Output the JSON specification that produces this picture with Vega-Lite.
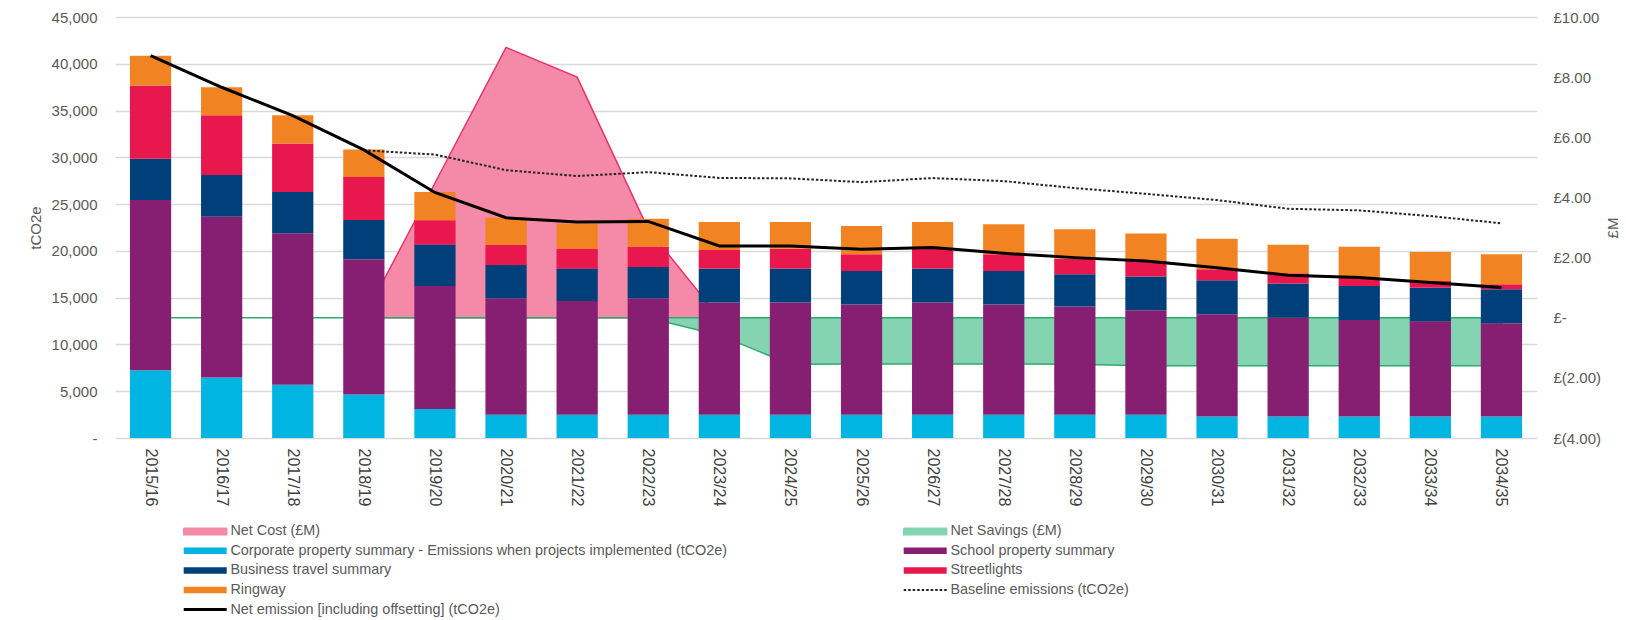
{
  "$schema": "https://vega.github.io/schema/vega-lite/v6.json",
  "width": 1422,
  "height": 421,
  "autosize": {"type": "none"},
  "padding": {"left": 115, "top": 17, "right": 89, "bottom": 182},
  "config": {"view": {"stroke": null}, "font": "Liberation Sans"},
  "datasets": {
    "bars": [
      {"year": "2015/16", "series": "Corporate property summary - Emissions when projects implemented (tCO2e)", "stackorder": 1, "tco2e": 7250},
      {"year": "2015/16", "series": "School property summary", "stackorder": 2, "tco2e": 18180},
      {"year": "2015/16", "series": "Business travel summary", "stackorder": 3, "tco2e": 4410},
      {"year": "2015/16", "series": "Streetlights", "stackorder": 4, "tco2e": 7830},
      {"year": "2015/16", "series": "Ringway", "stackorder": 5, "tco2e": 3200},
      {"year": "2016/17", "series": "Corporate property summary - Emissions when projects implemented (tCO2e)", "stackorder": 1, "tco2e": 6470},
      {"year": "2016/17", "series": "School property summary", "stackorder": 2, "tco2e": 17180},
      {"year": "2016/17", "series": "Business travel summary", "stackorder": 3, "tco2e": 4450},
      {"year": "2016/17", "series": "Streetlights", "stackorder": 4, "tco2e": 6400},
      {"year": "2016/17", "series": "Ringway", "stackorder": 5, "tco2e": 2990},
      {"year": "2017/18", "series": "Corporate property summary - Emissions when projects implemented (tCO2e)", "stackorder": 1, "tco2e": 5690},
      {"year": "2017/18", "series": "School property summary", "stackorder": 2, "tco2e": 16190},
      {"year": "2017/18", "series": "Business travel summary", "stackorder": 3, "tco2e": 4410},
      {"year": "2017/18", "series": "Streetlights", "stackorder": 4, "tco2e": 5190},
      {"year": "2017/18", "series": "Ringway", "stackorder": 5, "tco2e": 3020},
      {"year": "2018/19", "series": "Corporate property summary - Emissions when projects implemented (tCO2e)", "stackorder": 1, "tco2e": 4660},
      {"year": "2018/19", "series": "School property summary", "stackorder": 2, "tco2e": 14440},
      {"year": "2018/19", "series": "Business travel summary", "stackorder": 3, "tco2e": 4200},
      {"year": "2018/19", "series": "Streetlights", "stackorder": 4, "tco2e": 4590},
      {"year": "2018/19", "series": "Ringway", "stackorder": 5, "tco2e": 2950},
      {"year": "2019/20", "series": "Corporate property summary - Emissions when projects implemented (tCO2e)", "stackorder": 1, "tco2e": 3100},
      {"year": "2019/20", "series": "School property summary", "stackorder": 2, "tco2e": 13160},
      {"year": "2019/20", "series": "Business travel summary", "stackorder": 3, "tco2e": 4410},
      {"year": "2019/20", "series": "Streetlights", "stackorder": 4, "tco2e": 2600},
      {"year": "2019/20", "series": "Ringway", "stackorder": 5, "tco2e": 3020},
      {"year": "2020/21", "series": "Corporate property summary - Emissions when projects implemented (tCO2e)", "stackorder": 1, "tco2e": 2490},
      {"year": "2020/21", "series": "School property summary", "stackorder": 2, "tco2e": 12410},
      {"year": "2020/21", "series": "Business travel summary", "stackorder": 3, "tco2e": 3590},
      {"year": "2020/21", "series": "Streetlights", "stackorder": 4, "tco2e": 2135},
      {"year": "2020/21", "series": "Ringway", "stackorder": 5, "tco2e": 2920},
      {"year": "2021/22", "series": "Corporate property summary - Emissions when projects implemented (tCO2e)", "stackorder": 1, "tco2e": 2490},
      {"year": "2021/22", "series": "School property summary", "stackorder": 2, "tco2e": 12165},
      {"year": "2021/22", "series": "Business travel summary", "stackorder": 3, "tco2e": 3450},
      {"year": "2021/22", "series": "Streetlights", "stackorder": 4, "tco2e": 2135},
      {"year": "2021/22", "series": "Ringway", "stackorder": 5, "tco2e": 2700},
      {"year": "2022/23", "series": "Corporate property summary - Emissions when projects implemented (tCO2e)", "stackorder": 1, "tco2e": 2490},
      {"year": "2022/23", "series": "School property summary", "stackorder": 2, "tco2e": 12414},
      {"year": "2022/23", "series": "Business travel summary", "stackorder": 3, "tco2e": 3380},
      {"year": "2022/23", "series": "Streetlights", "stackorder": 4, "tco2e": 2170},
      {"year": "2022/23", "series": "Ringway", "stackorder": 5, "tco2e": 2990},
      {"year": "2023/24", "series": "Corporate property summary - Emissions when projects implemented (tCO2e)", "stackorder": 1, "tco2e": 2490},
      {"year": "2023/24", "series": "School property summary", "stackorder": 2, "tco2e": 11990},
      {"year": "2023/24", "series": "Business travel summary", "stackorder": 3, "tco2e": 3630},
      {"year": "2023/24", "series": "Streetlights", "stackorder": 4, "tco2e": 1990},
      {"year": "2023/24", "series": "Ringway", "stackorder": 5, "tco2e": 2990},
      {"year": "2024/25", "series": "Corporate property summary - Emissions when projects implemented (tCO2e)", "stackorder": 1, "tco2e": 2490},
      {"year": "2024/25", "series": "School property summary", "stackorder": 2, "tco2e": 11990},
      {"year": "2024/25", "series": "Business travel summary", "stackorder": 3, "tco2e": 3630},
      {"year": "2024/25", "series": "Streetlights", "stackorder": 4, "tco2e": 2130},
      {"year": "2024/25", "series": "Ringway", "stackorder": 5, "tco2e": 2850},
      {"year": "2025/26", "series": "Corporate property summary - Emissions when projects implemented (tCO2e)", "stackorder": 1, "tco2e": 2490},
      {"year": "2025/26", "series": "School property summary", "stackorder": 2, "tco2e": 11775},
      {"year": "2025/26", "series": "Business travel summary", "stackorder": 3, "tco2e": 3590},
      {"year": "2025/26", "series": "Streetlights", "stackorder": 4, "tco2e": 1780},
      {"year": "2025/26", "series": "Ringway", "stackorder": 5, "tco2e": 3020},
      {"year": "2026/27", "series": "Corporate property summary - Emissions when projects implemented (tCO2e)", "stackorder": 1, "tco2e": 2490},
      {"year": "2026/27", "series": "School property summary", "stackorder": 2, "tco2e": 11990},
      {"year": "2026/27", "series": "Business travel summary", "stackorder": 3, "tco2e": 3630},
      {"year": "2026/27", "series": "Streetlights", "stackorder": 4, "tco2e": 2240},
      {"year": "2026/27", "series": "Ringway", "stackorder": 5, "tco2e": 2740},
      {"year": "2027/28", "series": "Corporate property summary - Emissions when projects implemented (tCO2e)", "stackorder": 1, "tco2e": 2490},
      {"year": "2027/28", "series": "School property summary", "stackorder": 2, "tco2e": 11775},
      {"year": "2027/28", "series": "Business travel summary", "stackorder": 3, "tco2e": 3590},
      {"year": "2027/28", "series": "Streetlights", "stackorder": 4, "tco2e": 1780},
      {"year": "2027/28", "series": "Ringway", "stackorder": 5, "tco2e": 3200},
      {"year": "2028/29", "series": "Corporate property summary - Emissions when projects implemented (tCO2e)", "stackorder": 1, "tco2e": 2490},
      {"year": "2028/29", "series": "School property summary", "stackorder": 2, "tco2e": 11560},
      {"year": "2028/29", "series": "Business travel summary", "stackorder": 3, "tco2e": 3450},
      {"year": "2028/29", "series": "Streetlights", "stackorder": 4, "tco2e": 1670},
      {"year": "2028/29", "series": "Ringway", "stackorder": 5, "tco2e": 3130},
      {"year": "2029/30", "series": "Corporate property summary - Emissions when projects implemented (tCO2e)", "stackorder": 1, "tco2e": 2490},
      {"year": "2029/30", "series": "School property summary", "stackorder": 2, "tco2e": 11170},
      {"year": "2029/30", "series": "Business travel summary", "stackorder": 3, "tco2e": 3590},
      {"year": "2029/30", "series": "Streetlights", "stackorder": 4, "tco2e": 1670},
      {"year": "2029/30", "series": "Ringway", "stackorder": 5, "tco2e": 2950},
      {"year": "2030/31", "series": "Corporate property summary - Emissions when projects implemented (tCO2e)", "stackorder": 1, "tco2e": 2310},
      {"year": "2030/31", "series": "School property summary", "stackorder": 2, "tco2e": 10920},
      {"year": "2030/31", "series": "Business travel summary", "stackorder": 3, "tco2e": 3630},
      {"year": "2030/31", "series": "Streetlights", "stackorder": 4, "tco2e": 1175},
      {"year": "2030/31", "series": "Ringway", "stackorder": 5, "tco2e": 3270},
      {"year": "2031/32", "series": "Corporate property summary - Emissions when projects implemented (tCO2e)", "stackorder": 1, "tco2e": 2310},
      {"year": "2031/32", "series": "School property summary", "stackorder": 2, "tco2e": 10565},
      {"year": "2031/32", "series": "Business travel summary", "stackorder": 3, "tco2e": 3630},
      {"year": "2031/32", "series": "Streetlights", "stackorder": 4, "tco2e": 1100},
      {"year": "2031/32", "series": "Ringway", "stackorder": 5, "tco2e": 3060},
      {"year": "2032/33", "series": "Corporate property summary - Emissions when projects implemented (tCO2e)", "stackorder": 1, "tco2e": 2310},
      {"year": "2032/33", "series": "School property summary", "stackorder": 2, "tco2e": 10315},
      {"year": "2032/33", "series": "Business travel summary", "stackorder": 3, "tco2e": 3630},
      {"year": "2032/33", "series": "Streetlights", "stackorder": 4, "tco2e": 890},
      {"year": "2032/33", "series": "Ringway", "stackorder": 5, "tco2e": 3310},
      {"year": "2033/34", "series": "Corporate property summary - Emissions when projects implemented (tCO2e)", "stackorder": 1, "tco2e": 2310},
      {"year": "2033/34", "series": "School property summary", "stackorder": 2, "tco2e": 10170},
      {"year": "2033/34", "series": "Business travel summary", "stackorder": 3, "tco2e": 3590},
      {"year": "2033/34", "series": "Streetlights", "stackorder": 4, "tco2e": 710},
      {"year": "2033/34", "series": "Ringway", "stackorder": 5, "tco2e": 3095},
      {"year": "2034/35", "series": "Corporate property summary - Emissions when projects implemented (tCO2e)", "stackorder": 1, "tco2e": 2310},
      {"year": "2034/35", "series": "School property summary", "stackorder": 2, "tco2e": 9960},
      {"year": "2034/35", "series": "Business travel summary", "stackorder": 3, "tco2e": 3630},
      {"year": "2034/35", "series": "Streetlights", "stackorder": 4, "tco2e": 530},
      {"year": "2034/35", "series": "Ringway", "stackorder": 5, "tco2e": 3200}
    ],
    "lines": [
      {"year": "2015/16", "netemission": 40870, "baseline": null, "netcost": null, "netsavings": 0},
      {"year": "2016/17", "netemission": 37490, "baseline": null, "netcost": null, "netsavings": 0},
      {"year": "2017/18", "netemission": 34450, "baseline": null, "netcost": null, "netsavings": 0},
      {"year": "2018/19", "netemission": 30800, "baseline": 30750, "netcost": 0, "netsavings": 0},
      {"year": "2019/20", "netemission": 26250, "baseline": 30300, "netcost": 4.48, "netsavings": 0},
      {"year": "2020/21", "netemission": 23540, "baseline": 28630, "netcost": 8.99, "netsavings": 0},
      {"year": "2021/22", "netemission": 23100, "baseline": 28000, "netcost": 8.0, "netsavings": 0},
      {"year": "2022/23", "netemission": 23150, "baseline": 28420, "netcost": 2.94, "netsavings": 0},
      {"year": "2023/24", "netemission": 20520, "baseline": 27800, "netcost": 0, "netsavings": -0.58},
      {"year": "2024/25", "netemission": 20520, "baseline": 27750, "netcost": null, "netsavings": -1.55},
      {"year": "2025/26", "netemission": 20170, "baseline": 27350, "netcost": null, "netsavings": -1.54},
      {"year": "2026/27", "netemission": 20350, "baseline": 27780, "netcost": null, "netsavings": -1.54},
      {"year": "2027/28", "netemission": 19740, "baseline": 27460, "netcost": null, "netsavings": -1.54},
      {"year": "2028/29", "netemission": 19280, "baseline": 26710, "netcost": null, "netsavings": -1.55},
      {"year": "2029/30", "netemission": 18920, "baseline": 26100, "netcost": null, "netsavings": -1.6},
      {"year": "2030/31", "netemission": 18210, "baseline": 25430, "netcost": null, "netsavings": -1.6},
      {"year": "2031/32", "netemission": 17390, "baseline": 24500, "netcost": null, "netsavings": -1.6},
      {"year": "2032/33", "netemission": 17150, "baseline": 24330, "netcost": null, "netsavings": -1.6},
      {"year": "2033/34", "netemission": 16610, "baseline": 23720, "netcost": null, "netsavings": -1.6},
      {"year": "2034/35", "netemission": 16080, "baseline": 22950, "netcost": null, "netsavings": -1.6}
    ]
  },
  "encoding": {
    "x": {
      "field": "year",
      "type": "nominal",
      "sort": null,
      "scale": {"paddingInner": 0.42, "paddingOuter": 0.21},
      "axis": {"labelAngle": 90, "labelPadding": 10, "ticks": false, "domain": false, "title": null, "labelFontSize": 16, "labelColor": "#404040"}
    }
  },
  "layer": [
    {
      "data": {"name": "lines"},
      "layer": [
        {
          "mark": {"type": "area", "stroke": "#e8336a", "strokeWidth": 1.5, "opacity": 1},
          "encoding": {
            "y": {"field": "netcost", "type": "quantitative", "scale": {"domain": [-4, 10], "nice": false, "zero": false},
              "axis": {"orient": "right", "values": [-4, -2, 0, 2, 4, 6, 8, 10], "labelExpr": "datum.value === 0 ? '£-' : (datum.value < 0 ? '£(' + format(-datum.value, '.2f') + ')' : '£' + format(datum.value, '.2f'))", "grid": false, "ticks": false, "domain": false, "labelPadding": 16, "labelFontSize": 15, "labelColor": "#595959", "title": "£M", "titleAngle": 270, "titleFontSize": 15, "titleFontWeight": "normal", "titleColor": "#595959", "titlePadding": 20}},
            "color": {"datum": "Net Cost (£M)"}
          }
        },
        {
          "mark": {"type": "area", "stroke": "#2eab6b", "strokeWidth": 1.5, "opacity": 1},
          "encoding": {
            "y": {"field": "netsavings", "type": "quantitative", "scale": {"domain": [-4, 10], "nice": false, "zero": false},
              "axis": {"orient": "right", "values": [-4, -2, 0, 2, 4, 6, 8, 10], "labelExpr": "datum.value === 0 ? '£-' : (datum.value < 0 ? '£(' + format(-datum.value, '.2f') + ')' : '£' + format(datum.value, '.2f'))", "grid": false, "ticks": false, "domain": false, "labelPadding": 16, "labelFontSize": 15, "labelColor": "#595959", "title": "£M", "titleAngle": 270, "titleFontSize": 15, "titleFontWeight": "normal", "titleColor": "#595959", "titlePadding": 20}},
            "color": {"datum": "Net Savings (£M)"}
          }
        }
      ]
    },
    {
      "layer": [
        {
          "data": {"name": "bars"},
          "mark": {"type": "bar"},
          "encoding": {
            "y": {"field": "tco2e", "type": "quantitative", "stack": "zero", "scale": {"domain": [0, 45000], "nice": false},
              "axis": {"orient": "left", "values": [0, 5000, 10000, 15000, 20000, 25000, 30000, 35000, 40000, 45000], "labelExpr": "datum.value === 0 ? '-\u00a0\u00a0' : format(datum.value, ',')", "grid": true, "gridColor": "#d9d9d9", "gridWidth": 1.5, "ticks": false, "domain": false, "labelPadding": 18, "labelFontSize": 15, "labelColor": "#595959", "title": "tCO2e", "titleFontSize": 15, "titleFontWeight": "normal", "titleColor": "#595959", "titlePadding": 8}},
            "order": {"field": "stackorder", "type": "quantitative"},
            "color": {
              "field": "series",
              "type": "nominal",
              "scale": {
                "domain": ["Net Cost (£M)", "Net Savings (£M)", "Corporate property summary - Emissions when projects implemented (tCO2e)", "School property summary", "Business travel summary", "Streetlights", "Ringway", "Baseline emissions (tCO2e)", "Net emission [including offsetting] (tCO2e)"],
                "range": ["#f48aa7", "#84d3b1", "#00b5e2", "#861f72", "#003f7a", "#e8174d", "#f28322", "#222222", "#000000"]
              },
              "legend": {
                "orient": "none",
                "direction": "horizontal",
                "legendX": 83,
                "legendY": 507,
                "columns": 2,
                "columnPadding": 171,
                "rowPadding": 4.6,
                "padding": 0,
                "title": null,
                "labelFontSize": 14.4,
                "labelColor": "#595959",
                "labelLimit": 800,
                "labelOffset": 18,
                "symbolSize": 100,
                "encode": {
                  "symbols": {
                    "update": {
                      "shape": {"signal": "datum.value === 'Baseline emissions (tCO2e)' || datum.value === 'Net emission [including offsetting] (tCO2e)' ? 'M-4.3,0H4.3' : 'M-4.3,-0.65H4.3V0.65H-4.3Z'"},
                      "fill": {"signal": "datum.value === 'Baseline emissions (tCO2e)' || datum.value === 'Net emission [including offsetting] (tCO2e)' ? 'transparent' : scale('color', datum.value)"},
                      "stroke": {"signal": "datum.value === 'Net Cost (£M)' ? '#e8336a' : (datum.value === 'Net Savings (£M)' ? '#2eab6b' : scale('color', datum.value))"},
                      "strokeWidth": {"signal": "datum.value === 'Net emission [including offsetting] (tCO2e)' ? 3 : (datum.value === 'Baseline emissions (tCO2e)' ? 2 : (datum.value === 'Net Cost (£M)' || datum.value === 'Net Savings (£M)' ? 1.5 : 0))"},
                      "strokeDash": {"signal": "datum.value === 'Baseline emissions (tCO2e)' ? [2.5, 2] : [1, 0]"},
                      "size": {"value": 100},
                      "opacity": {"value": 1}
                    }
                  }
                }
              }
            }
          }
        },
        {
          "data": {"name": "lines"},
          "mark": {"type": "line", "strokeWidth": 2, "strokeDash": [2.5, 2]},
          "encoding": {
            "y": {"field": "baseline", "type": "quantitative", "scale": {"domain": [0, 45000], "nice": false},
              "axis": {"orient": "left", "values": [0, 5000, 10000, 15000, 20000, 25000, 30000, 35000, 40000, 45000], "labelExpr": "datum.value === 0 ? '-\u00a0\u00a0' : format(datum.value, ',')", "grid": true, "gridColor": "#d9d9d9", "gridWidth": 1.5, "ticks": false, "domain": false, "labelPadding": 18, "labelFontSize": 15, "labelColor": "#595959", "title": "tCO2e", "titleFontSize": 15, "titleFontWeight": "normal", "titleColor": "#595959", "titlePadding": 8}},
            "color": {"datum": "Baseline emissions (tCO2e)"}
          }
        },
        {
          "data": {"name": "lines"},
          "mark": {"type": "line", "strokeWidth": 3},
          "encoding": {
            "y": {"field": "netemission", "type": "quantitative", "scale": {"domain": [0, 45000], "nice": false},
              "axis": {"orient": "left", "values": [0, 5000, 10000, 15000, 20000, 25000, 30000, 35000, 40000, 45000], "labelExpr": "datum.value === 0 ? '-\u00a0\u00a0' : format(datum.value, ',')", "grid": true, "gridColor": "#d9d9d9", "gridWidth": 1.5, "ticks": false, "domain": false, "labelPadding": 18, "labelFontSize": 15, "labelColor": "#595959", "title": "tCO2e", "titleFontSize": 15, "titleFontWeight": "normal", "titleColor": "#595959", "titlePadding": 8}},
            "color": {"datum": "Net emission [including offsetting] (tCO2e)"}
          }
        }
      ]
    }
  ],
  "resolve": {"scale": {"y": "independent"}}
}
